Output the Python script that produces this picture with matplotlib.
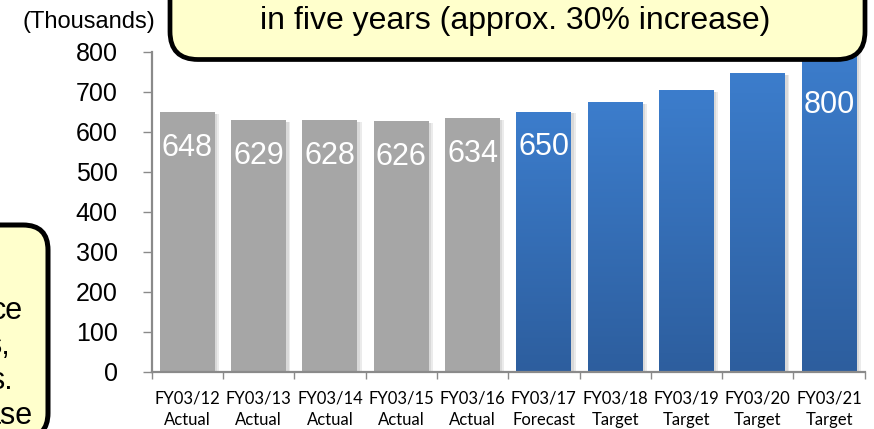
import matplotlib
matplotlib.use("Agg")
import matplotlib.pyplot as plt
import numpy as np
from matplotlib.patches import FancyBboxPatch, Rectangle
from matplotlib.colors import LinearSegmentedColormap
from matplotlib.transforms import IdentityTransform

# ---- data ----
years = ["FY03/12", "FY03/13", "FY03/14", "FY03/15", "FY03/16",
         "FY03/17", "FY03/18", "FY03/19", "FY03/20", "FY03/21"]
kinds = ["Actual", "Actual", "Actual", "Actual", "Actual",
         "Forecast", "Target", "Target", "Target", "Target"]
values = [648, 629, 628, 626, 634, 650, 674, 704, 746, 800]
labels = ["648", "629", "628", "626", "634", "650", "", "", "", "800"]
y_ticks = [0, 100, 200, 300, 400, 500, 600, 700, 800]
unit_label = "(Thousands)"
top_note = "in five years (approx. 30% increase)"
left_note_lines = ["ce", "s,", "s.", "ase"]

W, H, DPI = 874, 429, 100
ARIAL = ["Liberation Sans", "DejaVu Sans"]
CALIBRI = ["Lato", "DejaVu Sans"]

fig = plt.figure(figsize=(W / DPI, H / DPI), dpi=DPI)
fig.patch.set_facecolor("white")
ax = fig.add_axes([151.7 / W, 1 - 371.7 / H, (864.7 - 151.7) / W, (371.7 - 51.7) / H])

x = np.arange(len(values))
bw = 0.77
gray = "#A6A6A6"
blue_top = "#3C7DCC"
blue_bot = "#2D5E9E"
cmap = LinearSegmentedColormap.from_list("b", [blue_bot, blue_top])

for i, (v, k) in enumerate(zip(values, kinds)):
    # soft shadow
    for off, a in [(0.06, 0.35), (0.035, 0.5)]:
        ax.add_patch(Rectangle((i - bw / 2 + off, 0), bw, v - 4, color="#C8C8C8",
                               alpha=a, lw=0, zorder=1))
    if k == "Actual":
        ax.add_patch(Rectangle((i - bw / 2, 0), bw, v, color=gray, lw=0, zorder=2))
    else:
        rect = Rectangle((i - bw / 2, 0), bw, v, facecolor="none", lw=0, zorder=2)
        ax.add_patch(rect)
        grad = np.linspace(0, 1, 256).reshape(-1, 1)
        im = ax.imshow(grad, extent=(i - bw / 2, i + bw / 2, 0, v), origin="lower",
                       cmap=cmap, aspect="auto", zorder=2, interpolation="bilinear")
        im.set_clip_path(rect)

ax.set_xlim(-0.5, len(values) - 0.5)
ax.set_ylim(0, 800)

# bar labels (kept below the callout box)
box_bottom_val = 776
for i, (v, t) in enumerate(zip(values, labels)):
    if not t:
        continue
    ypos = min(v - 89, box_bottom_val - 110)
    ax.text(i, ypos, t, ha="center", va="center", color="white",
            fontsize=22, family=ARIAL, zorder=3)

# axes styling
for s in ["top", "right"]:
    ax.spines[s].set_visible(False)
for s in ["left", "bottom"]:
    ax.spines[s].set_color("#8A8A8A")
    ax.spines[s].set_linewidth(1.6)
ax.set_yticks(y_ticks)
ax.set_yticklabels([str(t) for t in y_ticks], fontsize=18, family=ARIAL)
ax.tick_params(axis="y", length=6.5, width=1, color="#8A8A8A", pad=18)
ax.set_xticks(x)
ax.set_xticklabels([f"{a}\n{b}" for a, b in zip(years, kinds)], fontsize=12,
                   family=CALIBRI, linespacing=1.45)
ax.tick_params(axis="x", length=0, pad=13.5)
ax.set_xticks(np.arange(-0.5, len(values), 1.0), minor=True)
ax.tick_params(axis="x", which="minor", length=5, width=1, color="#8A8A8A")

fig.text(89 / W, 1 - 22 / H, unit_label, ha="center", va="center", fontsize=17, family=ARIAL)

# callout boxes (pixel coordinates)
ident = IdentityTransform()
top_box = FancyBboxPatch((170, H - 59.5), 695, 120, boxstyle="round,pad=0,rounding_size=28",
                         transform=ident, facecolor="#FFFFCC", edgecolor="black",
                         linewidth=3.4, zorder=5)
fig.patches.append(top_box)
fig.text(515.5 / W, 1 - 28.5 / H, top_note, ha="center", va="baseline",
         fontsize=23, family=ARIAL, zorder=6)

left_box = FancyBboxPatch((-60, -9), 108, H - 225 + 9, boxstyle="round,pad=0,rounding_size=25",
                          transform=ident, facecolor="#FFFFCC", edgecolor="black",
                          linewidth=3.6, zorder=5)
fig.patches.append(left_box)
rights = [23, 10, 13, 33]
for j, (ln, r) in enumerate(zip(left_note_lines, rights)):
    fig.text(r / W, 1 - (319 + 35 * j) / H, ln, ha="right", va="baseline",
             fontsize=22, family=ARIAL, zorder=6)

fig.savefig("out.png", dpi=DPI)
